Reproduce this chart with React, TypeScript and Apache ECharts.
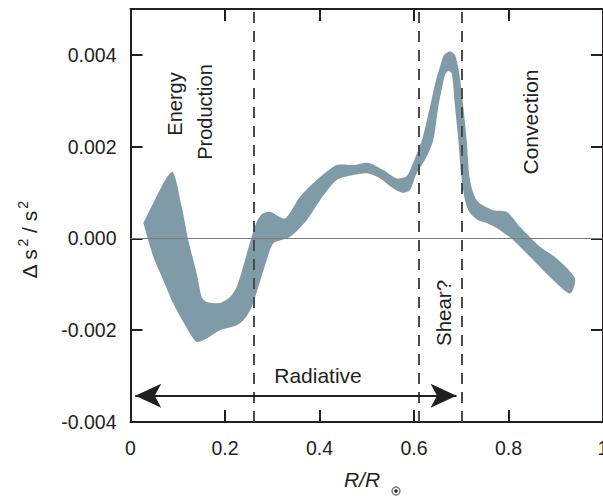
import React, { useEffect, useRef } from "react";
import * as echarts from "echarts";

// Outer (upper) boundary of the shaded band: R/R_sun and Δs²/s²
const upperX = [0.0271, 0.0872, 0.1084, 0.1223, 0.1401, 0.1507, 0.1613, 0.1894, 0.2106, 0.2248, 0.2423, 0.2565, 0.2671, 0.2783, 0.2952, 0.327, 0.3587, 0.3941, 0.4364, 0.4715, 0.5033, 0.535, 0.5634, 0.5846, 0.5979, 0.6169, 0.6339, 0.6466, 0.655, 0.6635, 0.6762, 0.6868, 0.6959, 0.7043, 0.7115, 0.7164, 0.7221, 0.7312, 0.7397, 0.7678, 0.7962, 0.8243, 0.8667, 0.902, 0.9407];
const upperY = [0.00034, 0.00145, 0.000689, -0.000037, -0.000763, -0.001274, -0.001383, -0.001405, -0.001274, -0.001056, -0.000473, 0.000035, 0.000356, 0.00053, 0.00058, 0.000436, 0.000907, 0.001272, 0.001599, 0.001599, 0.001649, 0.00149, 0.001309, 0.001359, 0.001642, 0.002144, 0.00287, 0.003453, 0.003743, 0.003998, 0.004074, 0.003998, 0.003599, 0.00287, 0.002144, 0.001424, 0.001097, 0.000857, 0.000763, 0.000617, 0.00058, 0.000253, -0.000183, -0.000436, -0.000872];
// Inner (lower) boundary of the band
const lowerX = [0.0271, 0.0483, 0.0694, 0.0906, 0.1259, 0.1401, 0.1613, 0.1894, 0.2248, 0.2423, 0.2565, 0.2705, 0.2883, 0.3022, 0.3376, 0.3729, 0.4011, 0.4364, 0.4715, 0.4999, 0.528, 0.5562, 0.5774, 0.5915, 0.6057, 0.6254, 0.6409, 0.6514, 0.6593, 0.6656, 0.672, 0.6798, 0.6868, 0.6938, 0.6995, 0.7079, 0.7185, 0.7354, 0.7539, 0.782, 0.8101, 0.8525, 0.8878, 0.9302];
const lowerY = [0.00034, -0.000401, -0.000909, -0.001418, -0.002072, -0.002255, -0.002181, -0.002, -0.001891, -0.001745, -0.001492, -0.001056, -0.000473, -0.000109, 0.000035, 0.000399, 0.000835, 0.001272, 0.001381, 0.001418, 0.001309, 0.001091, 0.000995, 0.001053, 0.001424, 0.001751, 0.002144, 0.00287, 0.003278, 0.003562, 0.003649, 0.003599, 0.00287, 0.002144, 0.001424, 0.000835, 0.000552, 0.000399, 0.000334, 0.000181, -0.000037, -0.000473, -0.000838, -0.0012];

// Region boundaries (dashed lines)
const boundaries = [0.257, 0.607, 0.701];
// Radiative arrow extent
const arrowX = [0.01, 0.69];
const arrowY = -0.00343;

const xMin = 0, xMax = 1, xStep = 0.2;
const yMin = -0.004, yMax = 0.005, yStep = 0.002;

const INK = "#231f20";
const BAND = "#809ba8";
const FONT = "'Liberation Sans', Arial, Helvetica, sans-serif";

export default function App() {
  const ref = useRef<HTMLDivElement>(null);
  useEffect(() => {
    if (!ref.current) return;
    const chart = echarts.init(ref.current, null, { renderer: "svg" });
    const axisLine = { show: true, onZero: false, lineStyle: { color: INK, width: 2 } };
    const axisTick = { show: true, inside: true, length: 12, lineStyle: { color: INK, width: 2 } };
    const labelStyle = { color: INK, fontSize: 19.5, fontFamily: FONT };
    const xFmt = (v: number) => (Math.abs(v) < 1e-9 ? "0" : Math.abs(v - 1) < 1e-9 ? "1" : v.toFixed(1));
    const yFmt = (v: number) => (v > 0.0045 ? "" : v.toFixed(3));
    const option: any = {
      animation: false,
      grid: { left: 130.5, right: 0, top: 9, bottom: 76, containLabel: false, outerBoundsMode: "none" },
      xAxis: [
        { type: "value", min: xMin, max: xMax, interval: xStep, position: "bottom", axisLine, axisTick, splitLine: { show: false },
          axisLabel: { ...labelStyle, margin: 16, formatter: xFmt } },
        { type: "value", min: xMin, max: xMax, interval: xStep, position: "top", axisLine, axisTick, splitLine: { show: false }, axisLabel: { show: false } },
      ],
      yAxis: [
        { type: "value", min: yMin, max: yMax, interval: yStep, position: "left", axisLine, axisTick, splitLine: { show: false },
          axisLabel: { ...labelStyle, margin: 14, formatter: yFmt, showMaxLabel: false } },
        { type: "value", min: yMin, max: yMax, interval: yStep, position: "right", axisLine, axisTick, splitLine: { show: false }, axisLabel: { show: false } },
      ],
      series: [
        {
          type: "line", data: [], z: 1, silent: true,
          markLine: { silent: true, symbol: ["none", "none"], label: { show: false }, animation: false,
            lineStyle: { color: "#7a7a7a", width: 1.2, type: "solid" }, data: [{ yAxis: 0 }] },
        },
        {
          type: "custom", z: 2, silent: true, data: [[0, 0]],
          renderItem: (params: any, api: any) => {
            const pts: number[][] = [];
            for (let i = 0; i < upperX.length; i++) pts.push(api.coord([upperX[i], upperY[i]]));
            for (let i = lowerX.length - 1; i >= 0; i--) pts.push(api.coord([lowerX[i], lowerY[i]]));
            return { type: "polygon", shape: { points: pts, smooth: 0.25 }, style: { fill: BAND, stroke: "none" } };
          },
        },
        {
          type: "line", data: [], z: 3, silent: true,
          markLine: { silent: true, symbol: ["none", "none"], label: { show: false }, animation: false,
            lineStyle: { color: "#4a4a4a", width: 2, type: [11, 8] },
            data: boundaries.map((b) => ({ xAxis: b })) },
        },
        {
          type: "line", data: [], z: 4, silent: true,
          markLine: { silent: true, symbol: ["arrow", "arrow"], symbolSize: [18, 26], label: { show: false }, animation: false,
            lineStyle: { color: INK, width: 2, type: "solid" }, itemStyle: { color: INK },
            data: [[{ coord: [arrowX[0], arrowY] }, { coord: [arrowX[1], arrowY] }]] },
        },
      ],
      graphic: [
        { type: "text", x: 174.5, y: 104, rotation: Math.PI / 2, style: { text: "Energy", font: `20px ${FONT}`, fill: INK, align: "center", verticalAlign: "middle" } },
        { type: "text", x: 205, y: 112, rotation: Math.PI / 2, style: { text: "Production", font: `20px ${FONT}`, fill: INK, align: "center", verticalAlign: "middle" } },
        { type: "text", x: 530.5, y: 122, rotation: Math.PI / 2, style: { text: "Convection", font: `21px ${FONT}`, fill: INK, align: "center", verticalAlign: "middle" } },
        { type: "text", x: 443, y: 313, rotation: Math.PI / 2, style: { text: "Shear?", font: `20.5px ${FONT}`, fill: INK, align: "center", verticalAlign: "middle" } },
        { type: "text", x: 318, y: 375, style: { text: "Radiative", font: `21px ${FONT}`, fill: INK, align: "center", verticalAlign: "middle" } },
        { type: "text", x: 28, y: 240, rotation: Math.PI / 2,
          style: { text: "{a|Δ s}{b|2}{a| / s}{b|2}", fill: INK, align: "center", verticalAlign: "middle",
            rich: { a: { fontSize: 21, fontFamily: FONT, color: INK, lineHeight: 24, verticalAlign: "bottom" },
                    b: { fontSize: 14, fontFamily: FONT, color: INK, lineHeight: 24, verticalAlign: "top", padding: [0, 0, 0, 2] } } } },
        { type: "text", x: 362, y: 479, style: { text: "R/R", font: `italic 21px ${FONT}`, fill: INK, align: "center", verticalAlign: "middle" } },
        { type: "circle", shape: { cx: 396, cy: 491, r: 4 }, style: { fill: "#fff", stroke: "#808080", lineWidth: 1.5 } },
        { type: "circle", shape: { cx: 396, cy: 491, r: 1.7 }, style: { fill: INK } },
      ],
    };
    chart.setOption(option);
    return () => chart.dispose();
  }, []);
  return <div ref={ref} style={{ position: "fixed", left: 0, top: 0, width: 603, height: 498, background: "#fff" }} />;
}
